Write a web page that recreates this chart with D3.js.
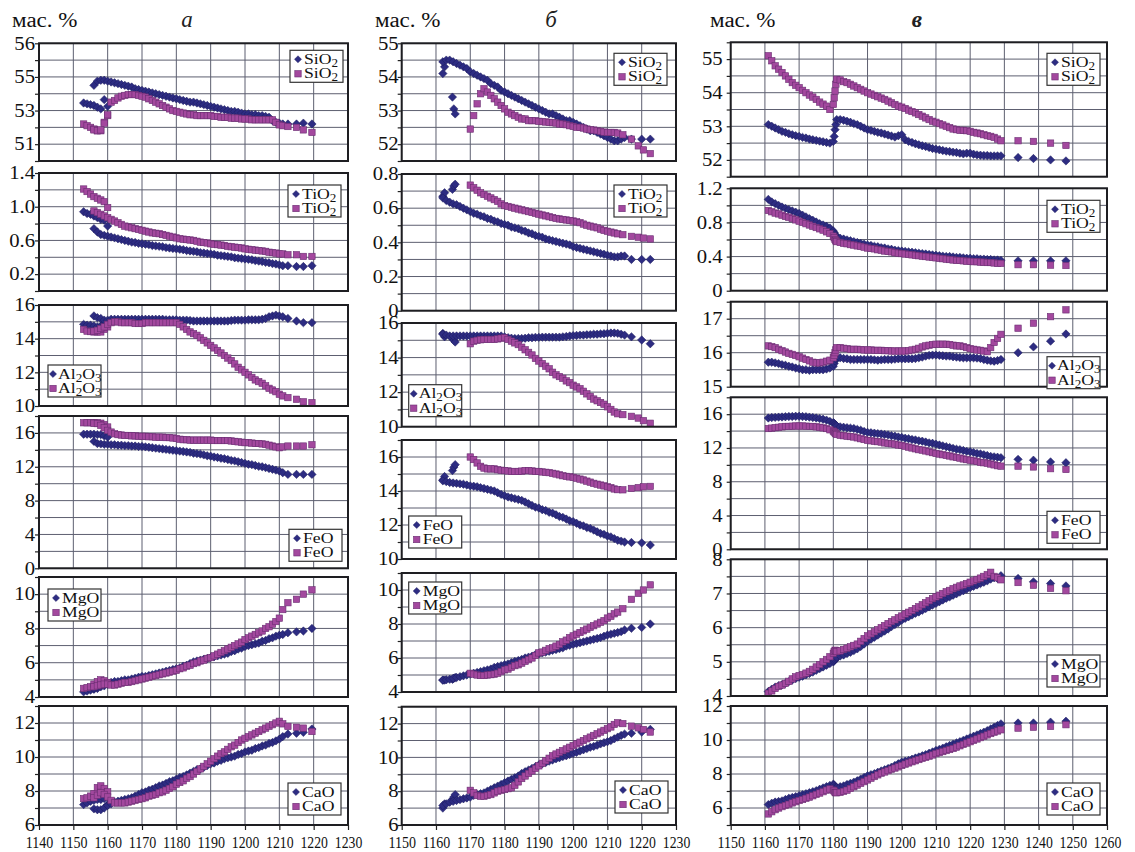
<!DOCTYPE html>
<html>
<head>
<meta charset="utf-8">
<script src="https://cdn.jsdelivr.net/npm/d3@7"></script>
<style>
  body { margin: 0; background: #fff; }
  svg { display: block; }
</style>
</head>
<body>
<div id="container"></div>
<script>
// ---------- temperatures (°C) of the model points ----------
// column а: first branch, main branch, sparse tail
const tempA = [1153, 1154, 1155, 1156, 1157, 1158, 1159, 1160,
  1156, 1157, 1158, 1159, 1160, 1161, 1162, 1163, 1164, 1165,
  1166, 1167, 1168, 1169, 1170, 1171, 1172, 1173, 1174, 1175,
  1176, 1177, 1178, 1179, 1180, 1181, 1182, 1183, 1184, 1185,
  1186, 1187, 1188, 1189, 1190, 1191, 1192, 1193, 1194, 1195,
  1196, 1197, 1198, 1199, 1200, 1201, 1202, 1203, 1204, 1205,
  1206, 1207, 1208, 1209, 1210,
  1211, 1212.5, 1215, 1217, 1219.5];
// column б: diamonds and squares start at different temperatures
const tempBd = [1162, 1162.5, 1164.8, 1165.2, 1165.6,
  1162, 1163, 1164, 1165, 1166, 1167, 1168, 1169,
  1170, 1171, 1172, 1173, 1174, 1175, 1176, 1177, 1178, 1179,
  1180, 1181, 1182, 1183, 1184, 1185, 1186, 1187, 1188, 1189,
  1190, 1191, 1192, 1193, 1194, 1195, 1196, 1197, 1198, 1199,
  1200, 1201, 1202, 1203, 1204, 1205, 1206, 1207, 1208, 1209,
  1210, 1211, 1212, 1213, 1214, 1215,
  1217, 1220, 1222.5];
const tempBs = [1170, 1171, 1172, 1173, 1174, 1175, 1176, 1177, 1178, 1179,
  1180, 1181, 1182, 1183, 1184, 1185, 1186, 1187, 1188, 1189,
  1190, 1191, 1192, 1193, 1194, 1195, 1196, 1197, 1198, 1199,
  1200, 1201, 1202, 1203, 1204, 1205, 1206, 1207, 1208, 1209,
  1210, 1211, 1212, 1213,
  1214.5, 1217, 1219, 1220.5, 1222.5];
// column в
const tempV = [1161, 1162, 1163, 1164, 1165, 1166, 1167, 1168, 1169, 1170,
  1171, 1172, 1173, 1174, 1175, 1176, 1177, 1178, 1179, 1180,
  1180.25, 1180.5, 1180.75,
  1181, 1182, 1183, 1184, 1185, 1186, 1187, 1188, 1189, 1190,
  1191, 1192, 1193, 1194, 1195, 1196, 1197, 1198, 1199, 1200,
  1201, 1202, 1203, 1204, 1205, 1206, 1207, 1208, 1209, 1210,
  1211, 1212, 1213, 1214, 1215, 1216, 1217, 1218, 1219, 1220,
  1221, 1222, 1223, 1224, 1225, 1226, 1227, 1228, 1229,
  1234, 1238.5, 1243.5, 1248];

// ---------- column а, wt. % ----------
const aSiO2d = [53.45, 53.4, 53.35, 53.3, 53.2, 53.1, 53.65, 53.25,
  54.5, 54.75, 54.8, 54.8, 54.75, 54.7, 54.65, 54.6, 54.55, 54.5,
  54.45, 54.4, 54.3, 54.25, 54.2, 54.15, 54.1, 54.05, 54.0, 53.95,
  53.9, 53.85, 53.8, 53.75, 53.7, 53.65, 53.6, 53.55, 53.5, 53.5,
  53.45, 53.4, 53.35, 53.3, 53.25, 53.2, 53.15, 53.1, 53.05, 53.0,
  52.95, 52.95, 52.9, 52.85, 52.8, 52.8, 52.75, 52.75, 52.7, 52.7,
  52.65, 52.6, 52.4, 52.3, 52.25,
  52.2, 52.2, 52.2, 52.25, 52.2];
const aSiO2s = [52.2, 52.1, 52.0, 51.9, 51.8, 51.8, 52.3, 52.7,
  51.85, 51.8, 51.85, 52.25, 52.75, 53.5, 53.6, 53.75, 53.85, 53.9,
  53.95, 53.95, 53.95, 53.9, 53.85, 53.8, 53.7, 53.6, 53.5, 53.4,
  53.3, 53.2, 53.1, 53.0, 52.95, 52.9, 52.85, 52.8, 52.75, 52.75,
  52.7, 52.7, 52.7, 52.7, 52.7, 52.65, 52.65, 52.6, 52.6, 52.6,
  52.55, 52.55, 52.55, 52.5, 52.5, 52.5, 52.45, 52.45, 52.45, 52.45,
  52.45, 52.45, 52.45, 52.3, 52.15,
  52.1, 52.05, 52.0, 51.85, 51.7];
const aTiO2d = [0.94, 0.92, 0.91, 0.89, 0.87, 0.85, 0.84, 0.77,
  0.74, 0.70, 0.67, 0.66, 0.65, 0.64, 0.63, 0.62, 0.61, 0.60,
  0.59, 0.58, 0.575, 0.565, 0.56, 0.555, 0.55, 0.54, 0.535, 0.53,
  0.525, 0.515, 0.51, 0.505, 0.5, 0.495, 0.49, 0.48, 0.475, 0.47,
  0.465, 0.455, 0.45, 0.445, 0.44, 0.435, 0.425, 0.42, 0.415, 0.41,
  0.405, 0.395, 0.39, 0.385, 0.38, 0.375, 0.37, 0.36, 0.355, 0.35,
  0.34, 0.335, 0.325, 0.32, 0.31,
  0.3, 0.3, 0.29, 0.29, 0.3];
const aTiO2s = [1.21, 1.18, 1.15, 1.12, 1.1, 1.08, 1.06, 0.99,
  0.95, 0.93, 0.91, 0.89, 0.87, 0.85, 0.83, 0.81, 0.79, 0.77,
  0.76, 0.75, 0.74, 0.73, 0.72, 0.71, 0.70, 0.69, 0.685, 0.68,
  0.67, 0.66, 0.65, 0.64, 0.63, 0.62, 0.615, 0.61, 0.605, 0.6,
  0.59, 0.58, 0.575, 0.57, 0.56, 0.555, 0.55, 0.545, 0.54, 0.53,
  0.525, 0.52, 0.515, 0.51, 0.5, 0.495, 0.49, 0.485, 0.48, 0.475,
  0.47, 0.46, 0.455, 0.45, 0.44,
  0.44, 0.43, 0.43, 0.41, 0.41];
const aAl2O3d = [14.85, 14.8, 14.8, 14.75, 14.7, 14.75, 14.9, 15.0,
  15.35, 15.25, 15.2, 15.1, 15.1, 15.15, 15.15, 15.15, 15.15, 15.15,
  15.15, 15.15, 15.15, 15.15, 15.15, 15.15, 15.15, 15.15, 15.15, 15.15,
  15.15, 15.12, 15.12, 15.12, 15.12, 15.1, 15.1, 15.1, 15.08, 15.05,
  15.05, 15.05, 15.05, 15.05, 15.05, 15.05, 15.05, 15.05, 15.05, 15.05,
  15.08, 15.1, 15.1, 15.1, 15.1, 15.12, 15.12, 15.12, 15.12, 15.15,
  15.2, 15.3, 15.35, 15.4, 15.35,
  15.3, 15.2, 15.05, 14.95, 14.95];
const aAl2O3s = [14.55, 14.45, 14.42, 14.4, 14.4, 14.4, 14.55, 14.7,
  14.45, 14.5, 14.6, 14.7, 14.85, 14.95, 15.0, 15.0, 14.95, 14.95,
  14.95, 14.95, 14.9, 14.9, 14.9, 14.95, 14.95, 14.95, 14.95, 14.95,
  14.95, 14.95, 14.95, 14.95, 14.95, 14.85, 14.7, 14.55, 14.4, 14.3,
  14.2, 14.05, 13.9, 13.75, 13.6, 13.45, 13.3, 13.15, 13.0, 12.85,
  12.7, 12.5, 12.3, 12.15, 12.0, 11.85, 11.7, 11.55, 11.45, 11.35,
  11.2, 11.05, 10.95, 10.85, 10.7,
  10.6, 10.5, 10.4, 10.25, 10.2];
const aFeOd = [15.85, 15.85, 15.85, 15.85, 15.8, 15.8, 15.65, 15.5,
  15.0, 14.75, 14.7, 14.65, 14.65, 14.6, 14.6, 14.55, 14.55, 14.5,
  14.5, 14.45, 14.45, 14.4, 14.4, 14.35, 14.3, 14.25, 14.2, 14.15,
  14.1, 14.05, 14.0, 13.95, 13.9, 13.85, 13.8, 13.75, 13.7, 13.6,
  13.55, 13.5, 13.4, 13.3, 13.25, 13.15, 13.1, 13.0, 12.95, 12.85,
  12.75, 12.7, 12.6, 12.5, 12.4, 12.3, 12.25, 12.15, 12.05, 12.0,
  11.9, 11.8, 11.7, 11.6, 11.5,
  11.3, 11.1, 11.1, 11.1, 11.1];
const aFeOs = [17.2, 17.2, 17.2, 17.2, 17.2, 17.15, 17.0, 16.7,
  17.15, 17.1, 16.9, 16.6, 16.3, 16.1, 15.9, 15.8, 15.75, 15.7,
  15.7, 15.65, 15.65, 15.6, 15.6, 15.6, 15.55, 15.55, 15.5, 15.5,
  15.5, 15.45, 15.45, 15.4, 15.35, 15.25, 15.2, 15.2, 15.15, 15.15,
  15.15, 15.15, 15.15, 15.15, 15.15, 15.1, 15.1, 15.1, 15.1, 15.1,
  15.05, 15.0, 14.95, 14.9, 14.85, 14.85, 14.8, 14.75, 14.75, 14.7,
  14.65, 14.55, 14.45, 14.35, 14.25,
  14.35, 14.45, 14.45, 14.45, 14.6];
const aMgOd = [4.3, 4.35, 4.4, 4.45, 4.5, 4.6, 4.65, 4.75,
  4.5, 4.6, 4.7, 4.75, 4.8, 4.85, 4.9, 4.9, 4.95, 5.0,
  5.0, 5.05, 5.1, 5.15, 5.2, 5.2, 5.25, 5.3, 5.35, 5.4,
  5.45, 5.5, 5.55, 5.6, 5.65, 5.7, 5.8, 5.85, 5.95, 6.05,
  6.1, 6.15, 6.2, 6.25, 6.3, 6.35, 6.4, 6.45, 6.5, 6.55,
  6.65, 6.7, 6.8, 6.85, 6.95, 7.0, 7.05, 7.1, 7.15, 7.25,
  7.3, 7.4, 7.45, 7.55, 7.6,
  7.65, 7.75, 7.8, 7.85, 8.0];
const aMgOs = [4.5, 4.55, 4.6, 4.75, 4.9, 5.0, 4.95, 4.85,
  4.6, 4.65, 4.7, 4.75, 4.75, 4.7, 4.7, 4.75, 4.8, 4.85,
  4.85, 4.9, 4.95, 5.0, 5.05, 5.1, 5.15, 5.2, 5.25, 5.3,
  5.35, 5.4, 5.45, 5.5, 5.55, 5.65, 5.7, 5.8, 5.85, 5.95,
  6.0, 6.1, 6.15, 6.25, 6.3, 6.4, 6.5, 6.6, 6.7, 6.8,
  6.9, 7.0, 7.1, 7.2, 7.35, 7.45, 7.55, 7.65, 7.75, 7.85,
  8.0, 8.1, 8.25, 8.4, 8.6,
  9.1, 9.5, 9.7, 10.0, 10.25];
const aCaOd = [7.2, 7.3, 7.4, 7.45, 7.5, 7.5, 7.55, 7.2,
  6.95, 6.9, 6.9, 7.0, 7.15, 7.25, 7.35, 7.4, 7.45, 7.5,
  7.55, 7.6, 7.7, 7.8, 7.9, 7.95, 8.05, 8.1, 8.2, 8.3,
  8.35, 8.45, 8.55, 8.6, 8.7, 8.8, 8.85, 8.95, 9.05, 9.15,
  9.25, 9.3, 9.4, 9.5, 9.6, 9.65, 9.75, 9.8, 9.9, 9.95,
  10.0, 10.05, 10.15, 10.2, 10.3, 10.35, 10.4, 10.5, 10.55, 10.65,
  10.7, 10.8, 10.85, 10.95, 11.05,
  11.2, 11.35, 11.4, 11.45, 11.65];
const aCaOs = [7.55, 7.6, 7.7, 7.85, 8.2, 8.3, 8.15, 7.95,
  7.6, 7.75, 7.9, 7.8, 7.65, 7.45, 7.3, 7.3, 7.3, 7.3,
  7.35, 7.4, 7.45, 7.5, 7.55, 7.6, 7.7, 7.75, 7.8, 7.9,
  7.95, 8.05, 8.15, 8.25, 8.4, 8.5, 8.6, 8.75, 8.85, 9.0,
  9.15, 9.3, 9.45, 9.6, 9.75, 9.9, 10.05, 10.2, 10.3, 10.45,
  10.6, 10.7, 10.85, 11.0, 11.1, 11.2, 11.3, 11.4, 11.5, 11.6,
  11.7, 11.8, 11.9, 12.0, 12.1,
  11.95, 11.8, 11.75, 11.7, 11.5];

// ---------- column б ----------
const bSiO2d = [54.1, 54.3, 53.4, 53.05, 52.9,
  54.45, 54.5, 54.5, 54.45, 54.4, 54.35, 54.3, 54.25,
  54.15, 54.1, 54.05, 54.0, 53.95, 53.9, 53.8, 53.75, 53.7, 53.6,
  53.55, 53.5, 53.45, 53.4, 53.35, 53.3, 53.25, 53.2, 53.15, 53.1,
  53.05, 53.0, 52.95, 52.9, 52.9, 52.85, 52.8, 52.75, 52.7, 52.7,
  52.65, 52.6, 52.55, 52.5, 52.45, 52.4, 52.4, 52.35, 52.3, 52.25,
  52.2, 52.15, 52.1, 52.1, 52.15, 52.2,
  52.15, 52.15, 52.15];
const bSiO2s = [52.45, 52.85, 53.2, 53.5, 53.65, 53.55, 53.45, 53.35, 53.25, 53.15,
  53.05, 52.95, 52.9, 52.85, 52.8, 52.75, 52.75, 52.7, 52.7, 52.7,
  52.68, 52.67, 52.66, 52.65, 52.64, 52.63, 52.6, 52.6, 52.58, 52.55,
  52.53, 52.5, 52.5, 52.48, 52.45, 52.43, 52.42, 52.4, 52.38, 52.36,
  52.35, 52.35, 52.35, 52.33,
  52.28, 52.15, 51.95, 51.83, 51.72];
const bTiO2d = [0.67, 0.69, 0.71, 0.73, 0.74,
  0.66, 0.645, 0.635, 0.625, 0.62, 0.61, 0.6, 0.59,
  0.58, 0.57, 0.565, 0.555, 0.55, 0.54, 0.535, 0.525, 0.52, 0.51,
  0.505, 0.5, 0.49, 0.485, 0.48, 0.47, 0.465, 0.455, 0.45, 0.44,
  0.435, 0.43, 0.42, 0.415, 0.41, 0.405, 0.4, 0.395, 0.39, 0.385,
  0.375, 0.37, 0.365, 0.36, 0.355, 0.35, 0.345, 0.34, 0.335, 0.33,
  0.325, 0.32, 0.315, 0.315, 0.32, 0.32,
  0.3, 0.3, 0.3];
const bTiO2s = [0.735, 0.72, 0.705, 0.69, 0.68, 0.67, 0.66, 0.65, 0.64, 0.625,
  0.615, 0.61, 0.605, 0.6, 0.595, 0.59, 0.585, 0.58, 0.575, 0.57,
  0.565, 0.56, 0.555, 0.55, 0.545, 0.54, 0.537, 0.534, 0.531, 0.528,
  0.525, 0.52, 0.515, 0.507, 0.5, 0.495, 0.49, 0.485, 0.477, 0.47,
  0.465, 0.46, 0.455, 0.45,
  0.445, 0.435, 0.43, 0.425, 0.42];
const bAl2O3d = [15.4, 15.2, 15.1, 15.0, 14.9,
  15.35, 15.3, 15.25, 15.25, 15.25, 15.25, 15.25, 15.25,
  15.25, 15.25, 15.25, 15.25, 15.25, 15.25, 15.25, 15.25, 15.25, 15.25,
  15.2, 15.15, 15.12, 15.1, 15.1, 15.1, 15.12, 15.15, 15.15, 15.17,
  15.17, 15.18, 15.18, 15.18, 15.18, 15.18, 15.18, 15.2, 15.22, 15.25,
  15.27, 15.28, 15.3, 15.3, 15.32, 15.33, 15.35, 15.35, 15.37, 15.38,
  15.4, 15.42, 15.42, 15.4, 15.35, 15.3,
  15.2, 15.02, 14.8];
const bAl2O3s = [14.8, 14.95, 15.0, 15.03, 15.05, 15.05, 15.05, 15.05, 15.08, 15.12,
  15.15, 15.05, 14.95, 14.85, 14.75, 14.6, 14.45, 14.3, 14.15, 13.95,
  13.8, 13.65, 13.5, 13.35, 13.15, 13.0, 12.9, 12.8, 12.65, 12.55,
  12.4, 12.3, 12.2, 12.05, 11.9, 11.75, 11.6, 11.5, 11.4, 11.3,
  11.15, 11.0, 10.85, 10.75,
  10.7, 10.6, 10.5, 10.35, 10.2];
const bFeOd = [14.65, 14.85, 15.2, 15.4, 15.55,
  14.6, 14.55, 14.5, 14.47, 14.45, 14.42, 14.4, 14.35,
  14.3, 14.28, 14.25, 14.2, 14.15, 14.1, 14.05, 14.0, 13.9, 13.8,
  13.72, 13.65, 13.6, 13.55, 13.5, 13.45, 13.35, 13.25, 13.15, 13.05,
  13.0, 12.9, 12.85, 12.75, 12.7, 12.6, 12.5, 12.45, 12.35, 12.25,
  12.2, 12.1, 12.0, 11.95, 11.85, 11.8, 11.7, 11.6, 11.5, 11.45,
  11.35, 11.3, 11.2, 11.1, 11.05, 11.0,
  10.97, 10.95, 10.82];
const bFeOs = [16.0, 15.85, 15.65, 15.45, 15.35, 15.3, 15.3, 15.3, 15.25, 15.22,
  15.2, 15.18, 15.15, 15.15, 15.15, 15.17, 15.2, 15.2, 15.18, 15.15,
  15.15, 15.12, 15.1, 15.08, 15.04, 15.0, 14.95, 14.9, 14.86, 14.83,
  14.8, 14.75, 14.7, 14.65, 14.58, 14.52, 14.45, 14.4, 14.35, 14.3,
  14.25, 14.2, 14.12, 14.08,
  14.07, 14.15, 14.2, 14.25, 14.27];
const bMgOd = [4.7, 4.7, 4.75, 4.8, 4.85,
  4.7, 4.72, 4.75, 4.8, 4.85, 4.9, 4.95, 5.0,
  5.05, 5.1, 5.15, 5.2, 5.25, 5.3, 5.35, 5.45, 5.5, 5.55,
  5.6, 5.65, 5.72, 5.8, 5.85, 5.92, 6.0, 6.05, 6.1, 6.2,
  6.25, 6.3, 6.35, 6.4, 6.45, 6.5, 6.55, 6.6, 6.7, 6.75,
  6.8, 6.85, 6.9, 6.95, 7.0, 7.05, 7.1, 7.15, 7.2, 7.28,
  7.35, 7.4, 7.45, 7.5, 7.55, 7.65,
  7.75, 7.8, 8.0];
const bMgOs = [5.1, 5.05, 5.0, 4.97, 4.97, 5.0, 5.02, 5.05, 5.1, 5.2,
  5.3, 5.35, 5.45, 5.55, 5.6, 5.7, 5.8, 5.9, 6.0, 6.15,
  6.3, 6.35, 6.45, 6.55, 6.6, 6.7, 6.8, 6.95, 7.05, 7.2,
  7.3, 7.4, 7.5, 7.6, 7.7, 7.8, 7.9, 8.0, 8.1, 8.2,
  8.35, 8.45, 8.6, 8.7,
  8.9, 9.45, 9.8, 10.0, 10.3];
const bCaOd = [7.0, 7.25, 7.5, 7.65, 7.8,
  7.15, 7.25, 7.35, 7.4, 7.45, 7.5, 7.55, 7.6,
  7.65, 7.75, 7.8, 7.85, 7.9, 8.0, 8.1, 8.2, 8.3, 8.4,
  8.5, 8.6, 8.7, 8.8, 8.9, 9.05, 9.15, 9.25, 9.35, 9.45,
  9.55, 9.62, 9.7, 9.78, 9.85, 9.92, 9.98, 10.05, 10.1, 10.17,
  10.24, 10.3, 10.38, 10.45, 10.52, 10.6, 10.65, 10.72, 10.8, 10.87,
  10.93, 11.0, 11.1, 11.2, 11.3, 11.38,
  11.43, 11.5, 11.66];
const bCaOs = [8.05, 7.9, 7.75, 7.7, 7.7, 7.75, 7.8, 7.9, 8.0, 8.05,
  8.1, 8.15, 8.2, 8.35, 8.55, 8.75, 8.9, 9.05, 9.2, 9.35,
  9.5, 9.65, 9.8, 9.95, 10.1, 10.2, 10.3, 10.4, 10.5, 10.6,
  10.7, 10.8, 10.9, 11.0, 11.1, 11.2, 11.3, 11.4, 11.5, 11.6,
  11.7, 11.8, 11.95, 12.05,
  12.0, 11.85, 11.75, 11.65, 11.5];

// ---------- column в ----------
const vSiO2d = [53.05, 53.0, 52.95, 52.9, 52.85, 52.82, 52.78, 52.75, 52.72, 52.7,
  52.67, 52.65, 52.62, 52.6, 52.58, 52.56, 52.54, 52.52, 52.5, 52.55,
  52.7, 52.9, 53.05,
  53.2, 53.2, 53.18, 53.15, 53.12, 53.08, 53.05, 53.0, 52.95, 52.9,
  52.88, 52.85, 52.82, 52.8, 52.77, 52.74, 52.71, 52.68, 52.72, 52.75,
  52.6, 52.55, 52.52, 52.48, 52.45, 52.42, 52.4, 52.37, 52.34, 52.32,
  52.3, 52.28, 52.26, 52.25, 52.23, 52.22, 52.2, 52.18, 52.2, 52.2,
  52.17, 52.15, 52.14, 52.13, 52.13, 52.12, 52.12, 52.12, 52.12,
  52.07, 52.04, 52.0, 51.97];
const vSiO2s = [55.1, 54.95, 54.8, 54.7, 54.6, 54.5, 54.4, 54.3, 54.22, 54.15,
  54.07, 54.0, 53.93, 53.87, 53.8, 53.72, 53.66, 53.6, 53.5, 53.65,
  53.85, 54.05, 54.25,
  54.4, 54.38, 54.33, 54.3, 54.25, 54.2, 54.15, 54.1, 54.05, 54.0,
  53.96, 53.92, 53.88, 53.84, 53.8, 53.75, 53.7, 53.65, 53.6, 53.57,
  53.53, 53.48, 53.44, 53.4, 53.35, 53.3, 53.25, 53.2, 53.15, 53.12,
  53.08, 53.04, 53.0, 52.96, 52.92, 52.9, 52.88, 52.88, 52.87, 52.85,
  52.82, 52.8, 52.78, 52.75, 52.72, 52.7, 52.67, 52.62, 52.57,
  52.57, 52.55, 52.5, 52.43];
const vTiO2d = [1.07, 1.04, 1.02, 1.0, 0.98, 0.965, 0.95, 0.935, 0.92, 0.905,
  0.885, 0.865, 0.845, 0.825, 0.805, 0.785, 0.77, 0.755, 0.735, 0.7,
  0.68, 0.66, 0.645,
  0.63, 0.615, 0.605, 0.595, 0.585, 0.575, 0.565, 0.555, 0.545, 0.535,
  0.53, 0.52, 0.515, 0.505, 0.5, 0.49, 0.485, 0.475, 0.47, 0.465,
  0.46, 0.455, 0.45, 0.445, 0.44, 0.435, 0.43, 0.425, 0.42, 0.415,
  0.41, 0.405, 0.4, 0.4, 0.395, 0.39, 0.39, 0.385, 0.38, 0.38,
  0.375, 0.375, 0.37, 0.37, 0.365, 0.365, 0.36, 0.36, 0.355,
  0.35, 0.35, 0.35, 0.35];
const vTiO2s = [0.94, 0.925, 0.91, 0.9, 0.885, 0.87, 0.86, 0.845, 0.83, 0.815,
  0.8, 0.785, 0.77, 0.755, 0.74, 0.725, 0.71, 0.69, 0.67, 0.64,
  0.62, 0.6, 0.585,
  0.575, 0.565, 0.555, 0.55, 0.54, 0.535, 0.525, 0.52, 0.51, 0.5,
  0.495, 0.49, 0.48, 0.475, 0.465, 0.46, 0.455, 0.445, 0.44, 0.435,
  0.43, 0.425, 0.42, 0.415, 0.41, 0.405, 0.4, 0.395, 0.39, 0.385,
  0.38, 0.375, 0.37, 0.365, 0.36, 0.355, 0.355, 0.35, 0.345, 0.345,
  0.34, 0.34, 0.335, 0.335, 0.33, 0.33, 0.325, 0.32, 0.32,
  0.305, 0.305, 0.3, 0.295];
const vAl2O3d = [15.72, 15.72, 15.7, 15.68, 15.65, 15.63, 15.6, 15.58, 15.55, 15.53,
  15.5, 15.5, 15.48, 15.5, 15.5, 15.5, 15.5, 15.52, 15.55, 15.6,
  15.68, 15.76, 15.82,
  15.86, 15.85, 15.83, 15.82, 15.8, 15.8, 15.8, 15.8, 15.8, 15.8,
  15.8, 15.79, 15.78, 15.79, 15.8, 15.8, 15.8, 15.81, 15.82, 15.82,
  15.82, 15.82, 15.82, 15.83, 15.85, 15.87, 15.9, 15.92, 15.93, 15.93,
  15.92, 15.91, 15.9, 15.9, 15.88, 15.87, 15.86, 15.85, 15.85, 15.85,
  15.85, 15.84, 15.83, 15.8, 15.78, 15.76, 15.75, 15.77, 15.8,
  16.0, 16.17, 16.34, 16.55];
const vAl2O3s = [16.2, 16.18, 16.15, 16.1, 16.06, 16.02, 15.98, 15.95, 15.92, 15.88,
  15.84, 15.8, 15.76, 15.72, 15.7, 15.7, 15.72, 15.75, 15.78, 15.85,
  15.92, 16.0, 16.08,
  16.15, 16.15, 16.13, 16.12, 16.1, 16.1, 16.1, 16.09, 16.08, 16.08,
  16.08, 16.07, 16.07, 16.07, 16.06, 16.06, 16.05, 16.05, 16.05, 16.05,
  16.05, 16.06, 16.08, 16.1, 16.13, 16.17, 16.2, 16.22, 16.24, 16.25,
  16.25, 16.25, 16.25, 16.24, 16.22, 16.2, 16.2, 16.18, 16.15, 16.12,
  16.1, 16.08, 16.07, 16.05, 16.03, 16.15, 16.3, 16.42, 16.54,
  16.72, 16.87, 17.06, 17.26];
const vFeOd = [15.55, 15.6, 15.62, 15.65, 15.67, 15.7, 15.72, 15.73, 15.75, 15.75,
  15.72, 15.7, 15.65, 15.6, 15.55, 15.48, 15.4, 15.3, 15.15, 15.0,
  14.9, 14.8, 14.7,
  14.6, 14.5, 14.45, 14.4, 14.35, 14.3, 14.2, 14.1, 13.95, 13.85,
  13.8, 13.75, 13.7, 13.65, 13.6, 13.55, 13.45, 13.4, 13.3, 13.25,
  13.15, 13.1, 13.0, 12.95, 12.85, 12.8, 12.7, 12.6, 12.55, 12.45,
  12.35, 12.25, 12.15, 12.05, 11.95, 11.85, 11.8, 11.7, 11.6, 11.55,
  11.45, 11.35, 11.3, 11.2, 11.1, 11.0, 10.95, 10.9, 10.85,
  10.65, 10.55, 10.35, 10.25];
const vFeOs = [14.3, 14.35, 14.4, 14.45, 14.5, 14.55, 14.55, 14.58, 14.6, 14.6,
  14.6, 14.58, 14.55, 14.55, 14.5, 14.45, 14.38, 14.3, 14.15, 14.0,
  13.9, 13.8, 13.7,
  13.6, 13.5, 13.45, 13.4, 13.35, 13.3, 13.2, 13.1, 13.0, 12.9,
  12.85, 12.8, 12.75, 12.7, 12.6, 12.55, 12.5, 12.45, 12.35, 12.3,
  12.2, 12.1, 12.0, 11.9, 11.8, 11.75, 11.65, 11.55, 11.45, 11.35,
  11.28, 11.2, 11.12, 11.05, 10.95, 10.88, 10.8, 10.7, 10.62, 10.55,
  10.48, 10.4, 10.3, 10.25, 10.2, 10.1, 10.0, 9.9, 9.85,
  9.85, 9.75, 9.55, 9.45];
const vMgOd = [4.13, 4.2, 4.26, 4.3, 4.33, 4.37, 4.42, 4.47, 4.51, 4.55,
  4.58, 4.62, 4.66, 4.7, 4.75, 4.8, 4.85, 4.9, 4.95, 5.0,
  5.03, 5.06, 5.1,
  5.13, 5.17, 5.2, 5.24, 5.28, 5.33, 5.38, 5.45, 5.52, 5.6,
  5.66, 5.72, 5.78, 5.84, 5.9, 5.96, 6.03, 6.09, 6.15, 6.22,
  6.27, 6.32, 6.37, 6.42, 6.46, 6.51, 6.56, 6.61, 6.66, 6.71,
  6.76, 6.81, 6.86, 6.9, 6.95, 6.99, 7.04, 7.08, 7.13, 7.17,
  7.21, 7.25, 7.29, 7.33, 7.37, 7.42, 7.46, 7.44, 7.52,
  7.44, 7.34, 7.29, 7.22];
const vMgOs = [4.08, 4.15, 4.22, 4.28, 4.32, 4.37, 4.43, 4.5, 4.56, 4.6,
  4.63, 4.67, 4.72, 4.78, 4.85, 4.92, 5.0, 5.07, 5.15, 5.25,
  5.3, 5.34, 5.32,
  5.3, 5.32, 5.36, 5.4, 5.44, 5.48, 5.52, 5.6, 5.68, 5.76,
  5.82, 5.88, 5.94, 6.0, 6.06, 6.12, 6.18, 6.23, 6.29, 6.34,
  6.4, 6.45, 6.5, 6.56, 6.61, 6.67, 6.73, 6.79, 6.85, 6.9,
  6.95, 7.0, 7.05, 7.09, 7.14, 7.18, 7.22, 7.25, 7.29, 7.33,
  7.37, 7.41, 7.45, 7.5, 7.55, 7.62, 7.5, 7.46, 7.4,
  7.32, 7.24, 7.15, 7.08];
const vCaOd = [6.2, 6.28, 6.35, 6.38, 6.42, 6.5, 6.57, 6.62, 6.67, 6.72,
  6.78, 6.84, 6.9, 6.96, 7.02, 7.1, 7.18, 7.26, 7.33, 7.4,
  7.35, 7.25, 7.2,
  7.2, 7.25, 7.3, 7.38, 7.45, 7.52, 7.6, 7.7, 7.8, 7.9,
  7.96, 8.02, 8.1, 8.18, 8.25, 8.32, 8.4, 8.5, 8.6, 8.7,
  8.75, 8.8, 8.87, 8.94, 9.0, 9.07, 9.14, 9.22, 9.3, 9.38,
  9.45, 9.52, 9.6, 9.68, 9.75, 9.83, 9.9, 9.98, 10.06, 10.14,
  10.22, 10.3, 10.38, 10.46, 10.55, 10.65, 10.75, 10.85, 10.95,
  11.0, 11.0, 11.05, 11.1];
const vCaOs = [5.65, 5.78, 5.9, 6.0, 6.08, 6.15, 6.22, 6.3, 6.37, 6.44,
  6.5, 6.57, 6.64, 6.72, 6.8, 6.88, 6.96, 7.05, 7.12, 7.05,
  7.0, 6.92, 6.9,
  6.9, 6.92, 6.98, 7.05, 7.15, 7.25, 7.35, 7.45, 7.55, 7.65,
  7.75, 7.85, 7.95, 8.05, 8.12, 8.2, 8.28, 8.35, 8.42, 8.5,
  8.58, 8.65, 8.72, 8.78, 8.85, 8.92, 8.98, 9.05, 9.12, 9.2,
  9.26, 9.32, 9.38, 9.44, 9.5, 9.58, 9.66, 9.74, 9.82, 9.9,
  9.98, 10.06, 10.14, 10.22, 10.3, 10.38, 10.46, 10.53, 10.6,
  10.7, 10.75, 10.8, 10.9];

// ---------- axis tick labels ----------
const xTicksA = [1140, 1150, 1160, 1170, 1180, 1190, 1200, 1210, 1220, 1230];
const xTicksB = [1150, 1160, 1170, 1180, 1190, 1200, 1210, 1220, 1230];
const xTicksV = [1150, 1160, 1170, 1180, 1190, 1200, 1210, 1220, 1230, 1240, 1250, 1260];
const unitLabel = "мас. %";

const FONT = "'Liberation Serif', 'Times New Roman', serif";
const DIAMOND = "#2d2c82", SQUARE = "#a3489e";

// panel layout: y0/y1 plot edges, domain, grid step, labelled ticks, legend corner
const columns = [
  { x0: 39, x1: 348, xDomain: [1140, 1230], xTicks: xTicksA, title: "а", bold: false, titleX: 187, unitX: 12, gap: 4,
    panels: [
      { ox: "SiO2", y0: 43.3, y1: 161, domain: [50, 57], step: 1, ticks: [51, 53, 55, 57], text: ["51", "53", "55", "56"], leg: ["tr", 5, 7], t1: tempA, d: aSiO2d, t2: tempA, s: aSiO2s },
      { ox: "TiO2", y0: 173, y1: 291, domain: [0, 1.4], step: 0.2, ticks: [0.2, 0.6, 1.0, 1.4], text: ["0.2", "0.6", "1.0", "1.4"], leg: ["tr", 7, 12], t1: tempA, d: aTiO2d, t2: tempA, s: aTiO2s },
      { ox: "Al2O3", y0: 305, y1: 406, domain: [10, 16], step: 1, ticks: [10, 12, 14, 16], text: ["10", "12", "14", "16"], leg: ["bl", 9, 9], t1: tempA, d: aAl2O3d, t2: tempA, s: aAl2O3s },
      { ox: "FeO", y0: 416, y1: 568.3, domain: [0, 18], step: 2, ticks: [0, 4, 8, 12, 16], text: ["0", "4", "8", "12", "16"], leg: ["br", 6, 7], t1: tempA, d: aFeOd, t2: tempA, s: aFeOs },
      { ox: "MgO", y0: 577, y1: 697, domain: [4, 11], step: 1, ticks: [4, 6, 8, 10], text: ["4", "6", "8", "10"], leg: ["tl", 9, 12], t1: tempA, d: aMgOd, t2: tempA, s: aMgOs },
      { ox: "CaO", y0: 706, y1: 825, domain: [6, 13], step: 1, ticks: [6, 8, 10, 12], text: ["6", "8", "10", "12"], leg: ["br", 7, 10], t1: tempA, d: aCaOd, t2: tempA, s: aCaOs }
    ] },
  { x0: 401.7, x1: 676, xDomain: [1150, 1230], xTicks: xTicksB, title: "б", bold: false, titleX: 551, unitX: 375, gap: 3,
    panels: [
      { ox: "SiO2", y0: 43.3, y1: 161, domain: [51.5, 55], step: 0.5, ticks: [52, 53, 54, 55], text: ["52", "53", "54", "55"], leg: ["tr", 9, 10], t1: tempBd, d: bSiO2d, t2: tempBs, s: bSiO2s },
      { ox: "TiO2", y0: 174, y1: 310.7, domain: [0, 0.8], step: 0.1, ticks: [0, 0.2, 0.4, 0.6, 0.8], text: ["0", "0.2", "0.4", "0.6", "0.8"], leg: ["tr", 9, 11], t1: tempBd, d: bTiO2d, t2: tempBs, s: bTiO2s },
      { ox: "Al2O3", y0: 323, y1: 426.7, domain: [10, 16], step: 1, ticks: [10, 12, 14, 16], text: ["10", "12", "14", "16"], leg: ["bl", 7, 10], t1: tempBd, d: bAl2O3d, t2: tempBs, s: bAl2O3s },
      { ox: "FeO", y0: 440, y1: 559, domain: [10, 17], step: 1, ticks: [10, 12, 14, 16], text: ["10", "12", "14", "16"], leg: ["bl", 7, 11], t1: tempBd, d: bFeOd, t2: tempBs, s: bFeOs },
      { ox: "MgO", y0: 573, y1: 692, domain: [4, 11], step: 1, ticks: [4, 6, 8, 10], text: ["4", "6", "8", "10"], leg: ["tl", 7, 9], t1: tempBd, d: bMgOd, t2: tempBs, s: bMgOs },
      { ox: "CaO", y0: 706.7, y1: 825, domain: [6, 13], step: 1, ticks: [6, 8, 10, 12], text: ["6", "8", "10", "12"], leg: ["br", 8, 12], t1: tempBd, d: bCaOd, t2: tempBs, s: bCaOs }
    ] },
  { x0: 730.7, x1: 1107, xDomain: [1150, 1260], xTicks: xTicksV, title: "в", bold: true, titleX: 917, unitX: 710, gap: 8,
    panels: [
      { ox: "SiO2", y0: 42.3, y1: 176.7, domain: [51.5, 55.5], step: 0.5, ticks: [52, 53, 54, 55], text: ["52", "53", "54", "55"], leg: ["tr", 7, 11], t1: tempV, d: vSiO2d, t2: tempV, s: vSiO2s },
      { ox: "TiO2", y0: 188.3, y1: 290.7, domain: [0, 1.2], step: 0.2, ticks: [0, 0.4, 0.8, 1.2], text: ["0", "0.4", "0.8", "1.2"], leg: ["tr", 7, 12], t1: tempV, d: vTiO2d, t2: tempV, s: vTiO2s },
      { ox: "Al2O3", y0: 301.7, y1: 386.7, domain: [15, 17.5], step: 0.5, ticks: [15, 16, 17], text: ["15", "16", "17"], leg: ["br", 7, -2], t1: tempV, d: vAl2O3d, t2: tempV, s: vAl2O3s },
      { ox: "FeO", y0: 397.3, y1: 549.3, domain: [0, 18], step: 2, ticks: [0, 4, 8, 12, 16], text: ["0", "4", "8", "12", "16"], leg: ["br", 7, 6], t1: tempV, d: vFeOd, t2: tempV, s: vFeOs },
      { ox: "MgO", y0: 559.3, y1: 696, domain: [4, 8], step: 0.5, ticks: [4, 5, 6, 7, 8], text: ["4", "5", "6", "7", "8"], leg: ["br", 7, 9], t1: tempV, d: vMgOd, t2: tempV, s: vMgOs },
      { ox: "CaO", y0: 706, y1: 825, domain: [5, 12], step: 1, ticks: [6, 8, 10, 12], text: ["6", "8", "10", "12"], leg: ["br", 7, 10], t1: tempV, d: vCaOd, t2: tempV, s: vCaOs }
    ] }
];

const svg = d3.select("#container")
  .append("svg")
  .attr("width", 1135)
  .attr("height", 852)
  .style("font-family", FONT);

svg.append("rect").attr("width", 1135).attr("height", 852).attr("fill", "#fff");

// stretch text horizontally, the figure's lettering is wider than plain Times
function stretch(sel, k)
{
  sel.each(function ()
  {
    const w = this.getComputedTextLength();
    d3.select(this).attr("textLength", w * k).attr("lengthAdjust", "spacingAndGlyphs");
  });
}

// oxide formula with subscript digits
function formula(text, name)
{
  let low = false;
  name.split(/(\d)/).filter(s => s.length).forEach(part =>
  {
    const isNum = /\d/.test(part);
    const ts = text.append("tspan").text(part);
    if (isNum && !low) { ts.attr("dy", 3).attr("font-size", 11.5); low = true; }
    else if (!isNum && low) { ts.attr("dy", -3); low = false; }
    else if (isNum) ts.attr("font-size", 11.5);
  });
}

const diamondPath = "M0,-4.2L4.2,0L0,4.2L-4.2,0Z";

function drawDiamonds(g, pts)
{
  g.selectAll(null)
    .data(pts)
    .enter()
    .append("path")
    .attr("d", diamondPath)
    .attr("transform", d => "translate(" + d[0] + "," + d[1] + ")")
    .attr("fill", DIAMOND)
    .attr("stroke", "#1c1b5c")
    .attr("stroke-width", 0.5);
}

function drawSquares(g, pts)
{
  g.selectAll(null)
    .data(pts)
    .enter()
    .append("rect")
    .attr("x", d => d[0] - 3.2)
    .attr("y", d => d[1] - 3.2)
    .attr("width", 6.4)
    .attr("height", 6.4)
    .attr("fill", SQUARE)
    .attr("stroke", "#6a2d72")
    .attr("stroke-width", 0.6);
}

columns.forEach(col =>
{
  const x = d3.scaleLinear().domain(col.xDomain).range([col.x0, col.x1]);

  const unit = svg.append("text")
    .attr("x", col.unitX).attr("y", 27)
    .attr("font-size", 20).attr("fill", "#111")
    .text(unitLabel);
  stretch(unit, 1.15);

  svg.append("text")
    .attr("x", col.titleX).attr("y", 27)
    .attr("text-anchor", "middle")
    .attr("font-size", 23).attr("font-style", "italic")
    .attr("font-weight", col.bold ? "bold" : "normal")
    .attr("fill", "#222")
    .text(col.title);

  col.panels.forEach((p, k) =>
  {
    if (p.d.length !== p.t1.length || p.s.length !== p.t2.length)
      console.warn("length mismatch", col.title, p.ox, p.d.length, p.t1.length, p.s.length, p.t2.length);

    const y = d3.scaleLinear().domain(p.domain).range([p.y1, p.y0]);
    const g = svg.append("g");
    const grid = d3.range(p.domain[0], p.domain[1] + p.step / 2, p.step);

    // grid lines
    g.selectAll(null).data(grid).enter().append("line")
      .attr("x1", col.x0).attr("x2", col.x1)
      .attr("y1", d => y(d)).attr("y2", d => y(d))
      .attr("stroke", "#5d5f70").attr("stroke-width", 1);
    g.selectAll(null).data(col.xTicks).enter().append("line")
      .attr("x1", d => x(d)).attr("x2", d => x(d))
      .attr("y1", p.y0).attr("y2", p.y1)
      .attr("stroke", "#5d5f70").attr("stroke-width", 1);

    // small outward ticks on the value axis
    const tickAxis = g.append("g")
      .attr("transform", "translate(" + col.x0 + ",0)")
      .call(d3.axisLeft(y).tickValues(grid).tickSize(4).tickFormat(""));
    tickAxis.select(".domain").remove();
    tickAxis.selectAll("line").attr("stroke", "#222").attr("stroke-width", 1.2);

    // value labels
    const labAxis = g.append("g")
      .attr("transform", "translate(" + (col.x0 - col.gap) + ",0)")
      .call(d3.axisLeft(y).tickValues(p.ticks).tickSize(0).tickPadding(0).tickFormat((d, i) => p.text[i]));
    labAxis.select(".domain").remove();
    labAxis.selectAll("text")
      .attr("font-family", FONT).attr("font-size", 18).attr("fill", "#111");
    stretch(labAxis.selectAll("text"), 1.15);

    // points
    const dPts = d3.zip(p.t1, p.d).map(v => [x(v[0]), y(v[1])]);
    const sPts = d3.zip(p.t2, p.s).map(v => [x(v[0]), y(v[1])]);
    drawDiamonds(g, dPts);
    drawSquares(g, sPts);

    // frame
    g.append("rect")
      .attr("x", col.x0).attr("y", p.y0)
      .attr("width", col.x1 - col.x0).attr("height", p.y1 - p.y0)
      .attr("fill", "none").attr("stroke", "#1e1e22").attr("stroke-width", 2);

    // legend
    const lw = 53, lh = 32;
    const corner = p.leg[0];
    const lx = corner[1] === "r" ? col.x1 - p.leg[1] - lw : col.x0 + p.leg[1];
    const ly = corner[0] === "t" ? p.y0 + p.leg[2] : p.y1 - p.leg[2] - lh;
    const long = p.ox.length > 4;
    const mx = lx + (long ? 5 : 8), tx = lx + (long ? 10 : 14);
    const lg = g.append("g");
    lg.append("rect")
      .attr("x", lx).attr("y", ly).attr("width", lw).attr("height", lh)
      .attr("fill", "#fff").attr("stroke", "#333").attr("stroke-width", 1.2);
    drawDiamonds(lg, [[mx, ly + 9]]);
    lg.selectAll("path").attr("transform", "translate(" + mx + "," + (ly + 9) + ") scale(0.85)");
    drawSquares(lg, [[mx, ly + 23.5]]);
    [13.5, 28].forEach(dy =>
    {
      const t = lg.append("text")
        .attr("x", tx).attr("y", ly + dy)
        .attr("font-size", 15.5).attr("fill", "#111");
      formula(t, p.ox);
      stretch(t, 1.14);
    });

    // temperature axis under the last row
    if (k === col.panels.length - 1)
    {
      const xa = g.append("g")
        .attr("transform", "translate(0," + p.y1 + ")")
        .call(d3.axisBottom(x).tickValues(col.xTicks).tickSize(5).tickPadding(6).tickFormat(d3.format("d")));
      xa.select(".domain").remove();
      xa.selectAll("line").attr("stroke", "#222").attr("stroke-width", 1.2);
      xa.selectAll("text")
        .attr("font-family", FONT).attr("font-size", 17.5).attr("fill", "#111");
      xa.selectAll("text").each(function ()
      {
        d3.select(this).attr("textLength", 27.5).attr("lengthAdjust", "spacingAndGlyphs");
      });
    }
  });
});
</script>
</body>
</html>
